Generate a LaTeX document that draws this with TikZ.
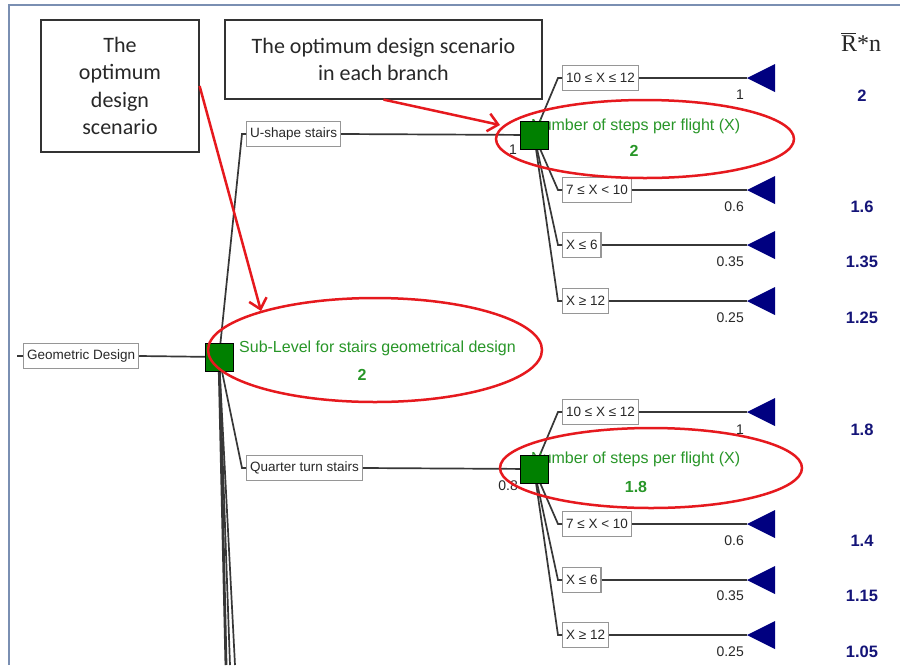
\documentclass[tikz,border=0pt]{standalone}
\usepackage{fontspec}
\setmainfont{Liberation Sans}
\newfontfamily\calloutfont{Carlito}
\newfontfamily\serifR{Liberation Serif}
\usetikzlibrary{arrows.meta}
\definecolor{framecol}{RGB}{122,143,178}
\definecolor{redann}{RGB}{230,25,30}
\definecolor{dgreen}{RGB}{0,128,0}
\definecolor{lblgreen}{RGB}{40,150,40}
\definecolor{navyval}{RGB}{20,20,120}
\definecolor{navytri}{RGB}{0,0,128}
\definecolor{linecol}{RGB}{55,55,55}
\definecolor{boxborder}{RGB}{150,150,150}
\definecolor{txtdark}{RGB}{40,40,40}
\begin{document}
\begin{tikzpicture}[x=1pt,y=-1pt,
  branchbox/.style={draw=boxborder, line width=1.2pt, fill=white, inner xsep=3.5pt, inner ysep=0pt,
    minimum height=25pt, anchor=west, font=\fontsize{13.5}{15}\selectfont, text=txtdark},
  decision/.style={draw=black, line width=1pt, fill=dgreen, minimum size=28pt, inner sep=0pt},
  conn/.style={draw=linecol, line width=1.7pt},
  leaf/.style={fill=navytri},
  greenlbl/.style={font=\fontsize{16}{18}\selectfont, text=lblgreen, inner sep=0pt, anchor=base west},
  greenval/.style={font=\bfseries\fontsize{16}{18}\selectfont, text=lblgreen},
  prob/.style={font=\fontsize{14}{16}\selectfont, text=txtdark, anchor=east, inner sep=0pt},
  payoff/.style={font=\bfseries\fontsize{16.5}{18}\selectfont, text=navyval},
  callout/.style={draw=black!80, line width=1.2pt, fill=white, align=center,
    font=\calloutfont\fontsize{22}{27.5}\selectfont, text=txtdark},
  redline/.style={draw=redann, line width=2.5pt},
  redarrow/.style={redline, -{Straight Barb[length=10pt,width=18pt]}},
  frameline/.style={draw=framecol, line width=2pt}
]
% canvas
\fill[white] (0,0) rectangle (900,665);
\useasboundingbox (0,0) rectangle (900,665);
\draw[frameline] (9,665) -- (9,5) -- (900,5);

% decision node centres
\coordinate (croot) at (219,357);
\coordinate (cA) at (534,135);
\coordinate (cC) at (534,469);

% branch boxes
\node[branchbox] (geo) at (23,356) {Geometric Design};
\node[branchbox] (ushape) at (246,134) {U-shape stairs};
\node[branchbox] (quarter) at (246,468) {Quarter turn stairs};

\node[branchbox] (a1) at (562,78) {10 ≤ X ≤ 12};
\node[branchbox] (a2) at (562,190) {7 ≤ X < 10};
\node[branchbox] (a3) at (562,245) {X ≤ 6};
\node[branchbox] (a4) at (562,301) {X ≥ 12};
\node[branchbox] (b1) at (562,412) {10 ≤ X ≤ 12};
\node[branchbox] (b2) at (562,524) {7 ≤ X < 10};
\node[branchbox] (b3) at (562,580) {X ≤ 6};
\node[branchbox] (b4) at (562,635) {X ≥ 12};

% leaf tips
\coordinate (ta1) at (747,78);
\coordinate (ta2) at (747,190);
\coordinate (ta3) at (747,245);
\coordinate (ta4) at (747,301);
\coordinate (tb1) at (747,412);
\coordinate (tb2) at (747,524);
\coordinate (tb3) at (747,580);
\coordinate (tb4) at (747,635);

% bottom free ends
\coordinate (d1) at (226,665);
\coordinate (d2) at (230,665);
\coordinate (d3) at (235,665);

% connectors
\draw[conn] ([xshift=-6pt]geo.west) -- (geo.west);
\draw[conn] (geo.east) -- (croot);
\draw[conn] (croot) -- ([xshift=-4pt]ushape.west) -- (ushape.west);
\draw[conn] (croot) -- ([xshift=-4pt]quarter.west) -- (quarter.west);
\draw[conn, line width=2.8pt] (croot) -- (d1);
\draw[conn] (croot) -- (d2);
\draw[conn] (croot) -- (d3);
\draw[conn] (ushape.east) -- (cA);
\draw[conn] (quarter.east) -- (cC);
\foreach \b in {a1,a2,a3,a4}{
  \draw[conn] (cA) -- ([xshift=-4pt]\b.west) -- (\b.west);
}
\foreach \b in {b1,b2,b3,b4}{
  \draw[conn] (cC) -- ([xshift=-4pt]\b.west) -- (\b.west);
}
\foreach \b/\t in {a1/ta1,a2/ta2,a3/ta3,a4/ta4,b1/tb1,b2/tb2,b3/tb3,b4/tb4}{
  \draw[conn] (\b.east) -- (\t);
  \fill[leaf] (\t) -- ++(28,-14) -- ++(0,28) -- cycle;
}

% green labels
\node[greenlbl] (lroot) at (239,352) {Sub-Level for stairs geometrical design};
\node[greenval] (vroot) at (362,375) {2};
\node[greenlbl] (lA) at (531,130) {Number of steps per flight (X)};
\node[greenval] (vA) at (634,151) {2};
\node[greenlbl] (lC) at (531,463) {Number of steps per flight (X)};
\node[greenval] (vC) at (636,487) {1.8};

% probabilities
\node[prob] (pu) at (517,150) {1};
\node[prob] (pq) at (518,486) {0.8};
\node[prob] (pa1) at (744,95) {1};
\node[prob] (pa2) at (744,207) {0.6};
\node[prob] (pa3) at (744,262) {0.35};
\node[prob] (pa4) at (744,318) {0.25};
\node[prob] (pb1) at (744,430) {1};
\node[prob] (pb2) at (744,541) {0.6};
\node[prob] (pb3) at (744,596) {0.35};
\node[prob] (pb4) at (744,652) {0.25};

% payoffs
\node[font=\serifR\fontsize{24}{26}\selectfont, text=txtdark, inner sep=0pt] (hdr) at (861,42)
  {\makebox[0pt][l]{\raisebox{0.74em}{\rule{0.62em}{1.2pt}}}R*n};
\node[payoff] (ra1) at (862,96) {2};
\node[payoff] (ra2) at (862,207) {1.6};
\node[payoff] (ra3) at (862,262) {1.35};
\node[payoff] (ra4) at (862,318) {1.25};
\node[payoff] (rb1) at (862,430) {1.8};
\node[payoff] (rb2) at (862,541) {1.4};
\node[payoff] (rb3) at (862,596) {1.15};
\node[payoff] (rb4) at (862,652) {1.05};

% decision squares
\node[decision] (root) at (croot) {};
\node[decision] (sqA) at (cA) {};
\node[decision] (sqC) at (cC) {};

% callouts
\node[callout, minimum width=158pt, minimum height=132pt] (c1) at (120,86) {The\\optimum\\design\\scenario};
\node[callout, minimum width=317pt, minimum height=79pt] (c2) at (383.5,59.5) {The optimum design scenario\\in each branch};

% red highlight ellipses
\draw[redline] (645,139) ellipse [x radius=149, y radius=39];
\draw[redline] (375,350) ellipse [x radius=167, y radius=52];
\draw[redline] (651,468) ellipse [x radius=151, y radius=40];

% red arrows
\coordinate (arrA) at (261,311);
\coordinate (arrB) at (500,125);
\draw[redarrow] (c1.east) -- (arrA);
\draw[redarrow] (c2.south) -- (arrB);
\end{tikzpicture}
\end{document}
